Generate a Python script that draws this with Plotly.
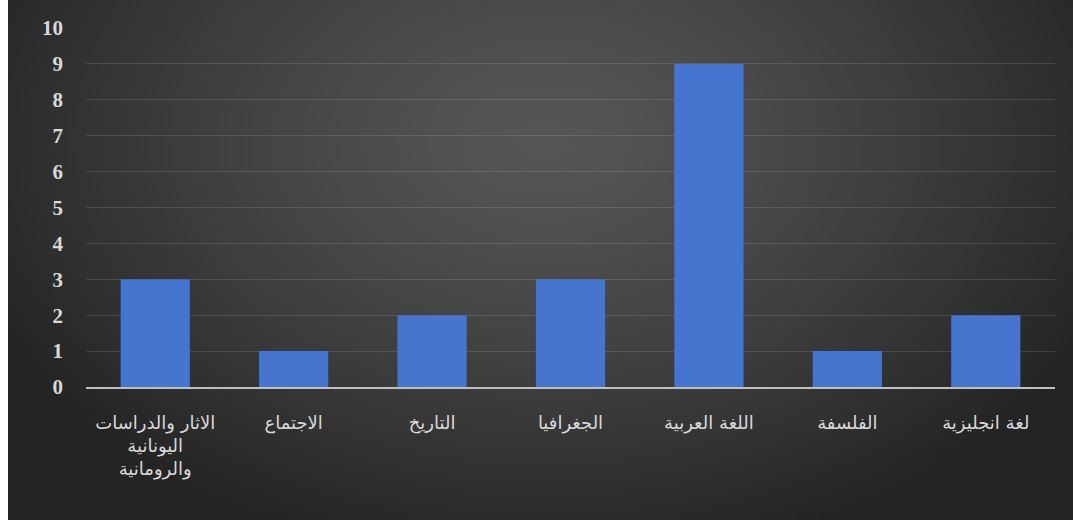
import base64, struct, zlib
import numpy as np
import plotly.graph_objects as go

categories = ["الاثار والدراسات<br>اليونانية<br>والرومانية", "الاجتماع", "التاريخ",
              "الجغرافيا", "اللغة العربية", "الفلسفة", "لغة انجليزية"]
values = [3, 1, 2, 3, 9, 1, 2]
y_ticks = [0, 1, 2, 3, 4, 5, 6, 7, 8, 9, 10]

W, H = 1073, 520
L, R, T, B = 86, 18, 28, 133
PW, PH = W - L - R, H - T - B

# radial gradient background image (png data uri)
iw, ih = 266, 130
xs = (np.arange(iw) + 0.5) / iw * (W - 8) + 8
ys = (np.arange(ih) + 0.5) / ih * H
X, Y = np.meshgrid(xs, ys)
d = np.sqrt(((X - 545) / 620) ** 2 + ((Y - 140) / 430) ** 2)
d = np.clip(d, 0, 1)
c = (86 - 50 * d ** 1.3).astype(np.uint8)
rows = b"".join(b"\x00" + bytes(np.repeat(row, 3)) for row in c)
def chunk(t, data):
    return struct.pack(">I", len(data)) + t + data + struct.pack(">I", zlib.crc32(t + data) & 0xffffffff)
png = b"\x89PNG\r\n\x1a\n" + chunk(b"IHDR", struct.pack(">IIBBBBB", iw, ih, 8, 2, 0, 0, 0)) \
      + chunk(b"IDAT", zlib.compress(rows, 9)) + chunk(b"IEND", b"")
uri = "data:image/png;base64," + base64.b64encode(png).decode()

fig = go.Figure(go.Bar(
    x=categories, y=values,
    marker=dict(color="#4675cf", line=dict(width=0)),
    width=0.5,
))

fig.add_layout_image(dict(
    source=uri, xref="paper", yref="paper",
    x=(8 - L) / PW, y=(H - B) / PH,
    sizex=(W - 8) / PW, sizey=H / PH,
    sizing="stretch", layer="below", xanchor="left", yanchor="top",
))

fig.update_layout(
    width=W, height=H,
    margin=dict(l=L, r=R, t=T, b=B, pad=0),
    paper_bgcolor="white",
    plot_bgcolor="rgba(0,0,0,0)",
    showlegend=False,
    bargap=0.5,
    xaxis=dict(
        showgrid=False, showline=True, linecolor="#bfbfbf", linewidth=2,
        ticks="", tickfont=dict(family="DejaVu Sans", size=18, color="#d9d9d9"),
        ticklabelstandoff=18, zeroline=False,
    ),
    yaxis=dict(
        range=[0, 10], tickvals=y_ticks, showgrid=True,
        gridcolor="rgba(255,255,255,0.12)", gridwidth=1,
        zeroline=False, showline=False, ticks="",
        tickfont=dict(family="Liberation Serif", size=21, color="#d9d9d9", weight="bold"),
        ticklabelstandoff=22,
    ),
)

fig.write_html("out.html", config={"displayModeBar": False},
               post_script="document.body.style.margin='0';document.body.style.overflow='hidden';")
